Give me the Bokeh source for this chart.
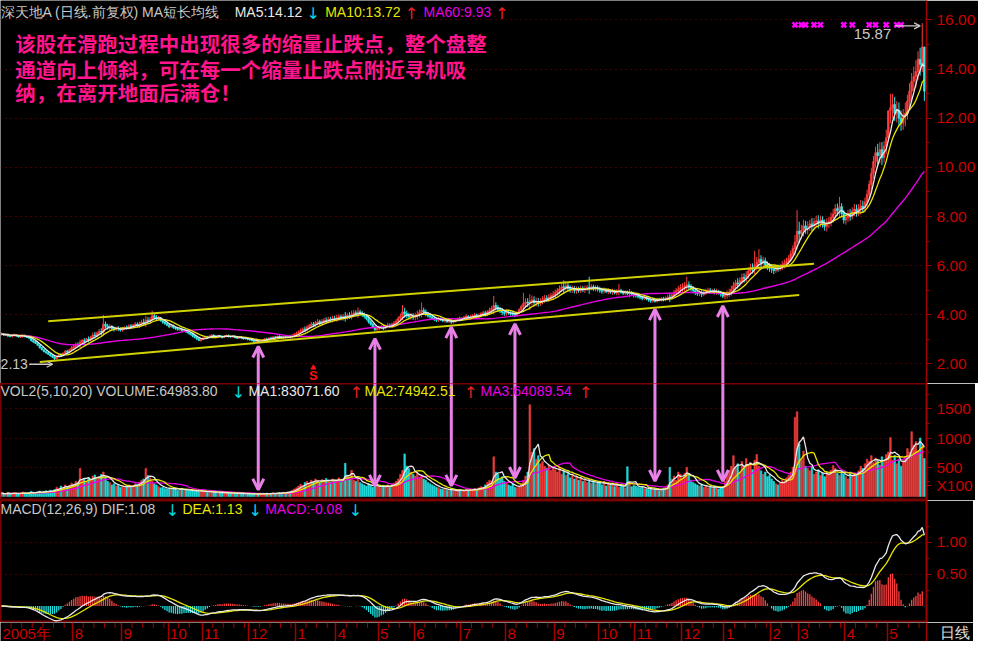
import numpy as np
import pandas as pd
from bokeh.plotting import figure
from bokeh.layouts import column
from bokeh.models import (Range1d, FixedTicker, Label, Arrow, OpenHead, ColumnDataSource,
                          NumeralTickFormatter, Grid)
from bokeh.core.properties import value
from bokeh.embed import file_html
from bokeh.resources import INLINE

# ---------------- data ----------------
month_labels = ["2005年", "8", "9", "10", "11", "12", "1", "4", "5", "6", "7",
                "8", "9", "10", "11", "12", "1", "2", "3", "4", "5"]

close_2005_07 = [3.22, 3.18, 3.20, 3.15, 3.12, 3.16, 3.19, 3.14, 3.10, 3.13,
                 3.16, 3.12, 3.08, 3.05, 2.95, 2.90, 2.84, 2.76, 2.66, 2.58,
                 2.50, 2.46, 2.40, 2.34, 2.28, 2.22, 2.30, 2.38, 2.35, 2.44,
                 2.52, 2.48, 2.58, 2.66]
close_2005_08 = [2.72, 2.80, 2.76, 2.88, 2.95, 2.92, 3.02, 2.98, 3.10, 3.18,
                 3.15, 3.26, 3.32, 3.30, 3.62, 3.55, 3.48, 3.52, 3.44, 3.40,
                 3.46, 3.42, 3.38]
close_2005_09 = [3.42, 3.50, 3.46, 3.55, 3.52, 3.58, 3.62, 3.56, 3.64, 3.70,
                 3.68, 3.78, 3.74, 3.82, 3.96, 3.90, 3.84, 3.88, 3.76, 3.70,
                 3.64, 3.58]
close_2005_10 = [3.52, 3.56, 3.48, 3.44, 3.40, 3.42, 3.36, 3.38, 3.30, 3.26,
                 3.20, 3.14, 3.08, 3.02, 2.96, 3.00]
close_2005_11 = [3.06, 3.12, 3.08, 3.14, 3.18, 3.12, 3.10, 3.15, 3.12, 3.08,
                 3.14, 3.16, 3.12, 3.10, 3.13, 3.08, 3.05, 3.09, 3.06, 3.02,
                 3.04, 3.00]
close_2005_12 = [2.98, 2.95, 2.92, 2.96, 2.90, 2.94, 2.98, 3.02, 3.00, 3.06,
                 3.04, 3.10, 3.08, 3.12, 3.10, 3.06, 3.10, 3.08, 3.12, 3.10,
                 3.15, 3.20]
close_2006_01 = [3.24, 3.30, 3.36, 3.42, 3.40, 3.50, 3.56, 3.62, 3.58, 3.68,
                 3.72, 3.66, 3.74, 3.78, 3.76, 3.82, 3.80, 3.86, 3.84]
close_2006_04 = [3.88, 3.92, 3.86, 3.94, 3.90, 3.98, 3.96, 4.02, 4.08, 4.04,
                 4.12, 4.06, 4.00, 3.94, 3.84, 3.72, 3.62, 3.50, 3.40, 3.44]
close_2006_05 = [3.48, 3.52, 3.46, 3.55, 3.58, 3.54, 3.62, 3.66, 3.74, 3.86,
                 3.94, 4.12, 4.05, 3.98, 3.92, 3.96, 3.90]
close_2006_06 = [3.96, 4.02, 4.10, 4.18, 4.12, 4.04, 3.96, 3.92, 3.86, 3.82,
                 3.78, 3.84, 3.80, 3.76, 3.78, 3.72, 3.75, 3.70, 3.74, 3.80,
                 3.84, 3.82]
close_2006_07 = [3.86, 3.90, 3.94, 3.88, 3.92, 3.96, 4.00, 3.94, 3.98, 4.04,
                 4.08, 4.02, 4.12, 4.18, 4.26, 4.38, 4.30, 4.22, 4.16, 4.10,
                 4.06]
close_2006_08 = [4.12, 4.08, 4.04, 4.02, 3.98, 4.10, 4.22, 4.34, 4.46, 4.52,
                 4.48, 4.56, 4.60, 4.50, 4.54, 4.48, 4.56, 4.62, 4.68, 4.64,
                 4.72, 4.78, 4.82]
close_2006_09 = [4.90, 4.98, 5.06, 5.14, 5.10, 5.18, 5.08, 5.02, 5.06, 4.98,
                 5.04, 5.00, 5.08, 5.02, 5.06, 5.12, 5.10, 5.14, 5.06, 5.10,
                 5.04]
close_2006_10 = [5.00, 4.96, 5.02, 4.94, 4.98, 4.92, 4.96, 4.90, 4.94, 5.00,
                 4.92, 4.88, 4.92, 4.86, 4.90, 4.84, 4.80]
close_2006_11 = [4.78, 4.74, 4.70, 4.66, 4.72, 4.64, 4.60, 4.56, 4.62, 4.55,
                 4.64, 4.60, 4.66, 4.62, 4.68, 4.72, 4.70, 4.80, 4.92, 4.98,
                 5.04, 5.10]
close_2006_12 = [5.12, 5.18, 5.22, 5.14, 5.06, 4.98, 4.92, 4.86, 4.90, 4.84,
                 4.92, 4.96, 5.00, 4.94, 4.98, 4.92, 4.96, 4.88, 4.84, 4.76]
close_2007_01 = [4.80, 4.86, 4.92, 5.04, 5.18, 5.30, 5.26, 5.40, 5.52, 5.48,
                 5.62, 5.78, 5.92, 5.86, 6.02, 6.14, 6.26, 6.10, 6.20, 6.04,
                 5.96, 5.90]
close_2007_02 = [5.86, 5.80, 5.92, 5.88, 5.98, 6.04, 6.10, 6.18, 6.30, 6.48,
                 6.70, 6.96, 7.40]
close_2007_03 = [7.30, 7.44, 7.62, 7.50, 7.58, 7.70, 7.64, 7.78, 7.82, 7.74,
                 7.86, 7.70, 7.60, 7.72, 7.80, 7.96, 8.10, 8.32, 8.24, 8.40,
                 8.12, 7.86]
close_2007_04 = [7.96, 8.10, 8.04, 8.22, 8.30, 8.18, 8.34, 8.42, 8.36, 8.58,
                 8.90, 9.30, 9.76, 10.24, 10.60, 10.48, 10.72, 10.40, 10.86, 11.20]
close_2007_05 = [12.30, 12.42, 12.56, 12.20, 12.32, 12.00, 11.80, 12.10, 12.20, 12.70,
                 13.10, 13.50, 13.70, 13.90, 14.40, 14.20, 14.90, 13.10]

# daily amplitude (high-low) in percent of the close
amp_2005_07 = [4, 3, 3, 5, 3, 4, 4, 3, 3, 4, 5, 4, 3, 4, 6, 5, 4, 5, 6, 5, 5, 6, 5, 6,
               6, 8, 7, 6, 7, 6, 7, 6, 7, 8]
amp_2005_08 = [6, 8, 7, 12, 7, 8, 6, 8, 7, 9, 9, 7, 8, 9, 16, 8, 7, 7, 6, 6, 5, 6, 5]
amp_2005_09 = [5, 4, 5, 6, 5, 5, 6, 6, 7, 7, 8, 12, 8, 7, 7, 6, 6, 5, 5, 5, 4, 4]
amp_2005_10 = [5, 4, 5, 4, 4, 4, 5, 4, 4, 4, 4, 5, 4, 5, 4, 5]
amp_2005_11 = [4, 4, 3, 4, 3, 3, 4, 3, 3, 4, 3, 3, 4, 3, 3, 4, 3, 3, 4, 3, 3, 4]
amp_2005_12 = [3, 3, 4, 3, 4, 4, 3, 4, 4, 3, 4, 4, 3, 4, 4, 4, 5, 4, 5, 5, 6, 6]
amp_2006_01 = [6, 6, 7, 6, 7, 7, 6, 7, 6, 7, 7, 6, 7, 6, 7, 7, 6, 7, 6]
amp_2006_04 = [7, 7, 6, 7, 10, 7, 7, 9, 7, 6, 10, 6, 6, 6, 6, 7, 6, 6, 7, 6]
amp_2006_05 = [6, 5, 6, 5, 6, 5, 6, 6, 7, 7, 8, 12, 10, 8, 7, 7, 7]
amp_2006_06 = [8, 9, 8, 12, 7, 7, 6, 6, 5, 5, 5, 5, 4, 4, 5, 4, 4, 5, 4, 4, 4, 5]
amp_2006_07 = [4, 4, 5, 4, 5, 4, 5, 4, 5, 5, 5, 6, 6, 7, 7, 14, 8, 7, 6, 7, 6]
amp_2006_08 = [6, 5, 5, 6, 5, 5, 5, 6, 12, 8, 8, 14, 9, 9, 8, 8, 7, 7, 7, 6, 7, 6, 7]
amp_2006_09 = [7, 6, 7, 6, 10, 6, 7, 6, 6, 6, 6, 5, 6, 5, 6, 5, 10, 5, 5, 5, 5]
amp_2006_10 = [5, 5, 5, 4, 5, 4, 5, 4, 5, 7, 4, 4, 4, 4, 7, 4, 5]
amp_2006_11 = [4, 4, 4, 4, 4, 4, 4, 4, 4, 4, 4, 3, 4, 4, 4, 5, 8, 6, 6, 6, 7, 7]
amp_2006_12 = [7, 7, 9, 7, 6, 6, 6, 5, 5, 6, 5, 5, 5, 5, 4, 5, 5, 4, 5, 5]
amp_2007_01 = [6, 7, 7, 8, 9, 7, 8, 7, 8, 7, 8, 8, 8, 7, 10, 9, 11, 8, 7, 7, 6, 6]
amp_2007_02 = [6, 6, 5, 5, 5, 6, 6, 6, 6, 7, 7, 12, 14]
amp_2007_03 = [12, 8, 9, 7, 7, 6, 7, 6, 6, 7, 6, 6, 6, 7, 6, 7, 7, 7, 6, 9, 7, 7]
amp_2007_04 = [6, 6, 6, 6, 6, 6, 6, 7, 6, 7, 8, 8, 9, 9, 8, 8, 8, 9, 8, 9]
amp_2007_05 = [9, 9, 8, 8, 7, 8, 7, 7, 8, 8, 8, 8, 7, 8, 8, 8, 9, 10]

vol_2005_07 = [60, 45, 50, 70, 40, 55, 65, 50, 45, 60, 80, 55, 50, 70, 90, 75, 60, 80,
               95, 70, 85, 100, 90, 110, 95, 120, 160, 140, 180, 150, 200, 170, 190, 230]
vol_2005_08 = [210, 260, 240, 480, 280, 300, 250, 320, 290, 350, 370, 300, 340, 380,
               420, 330, 260, 240, 200, 220, 180, 190, 160]
vol_2005_09 = [170, 150, 180, 200, 160, 190, 220, 210, 250, 280, 300, 480, 360, 320,
               260, 220, 200, 170, 150, 160, 140, 130]
vol_2005_10 = [140, 120, 150, 130, 110, 125, 140, 100, 115, 105, 95, 110, 90, 100, 85, 95]
vol_2005_11 = [90, 80, 70, 85, 75, 65, 80, 70, 60, 75, 65, 55, 70, 60, 50, 65, 55, 45,
               60, 50, 40, 55]
vol_2005_12 = [45, 40, 50, 35, 45, 55, 40, 50, 60, 45, 55, 65, 50, 60, 70, 60, 75, 65,
               80, 90, 110, 130]
vol_2006_01 = [150, 180, 210, 190, 240, 260, 230, 280, 250, 300, 270, 240, 290, 260,
               310, 280, 250, 300, 270]
vol_2006_04 = [280, 320, 260, 300, 570, 350, 300, 450, 280, 260, 300, 240, 220, 200,
               180, 220, 190, 160, 200, 170]
vol_2006_05 = [180, 150, 190, 170, 200, 160, 210, 230, 260, 300, 380, 450, 730, 520,
               480, 420, 380]
vol_2006_06 = [350, 400, 320, 360, 300, 280, 240, 220, 200, 180, 160, 150, 130, 120,
               140, 110, 100, 120, 110, 90, 100, 120]
vol_2006_07 = [110, 95, 120, 105, 130, 115, 140, 125, 150, 170, 160, 200, 240, 280,
               260, 680, 420, 380, 300, 340, 260]
vol_2006_08 = [240, 200, 180, 220, 160, 150, 170, 210, 280, 350, 420, 1570, 760, 820,
               640, 700, 560, 600, 520, 480, 540, 450, 500]
vol_2006_09 = [460, 420, 500, 380, 440, 360, 400, 320, 380, 300, 340, 280, 320, 260,
               300, 240, 280, 230, 260, 220, 250]
vol_2006_10 = [240, 200, 260, 180, 220, 190, 230, 170, 210, 160, 200, 180, 150, 510,
               220, 170, 190]
vol_2006_11 = [180, 160, 150, 170, 140, 130, 120, 140, 110, 130, 120, 100, 130, 140,
               160, 200, 500, 300, 350, 280, 420, 380]
vol_2006_12 = [320, 400, 500, 360, 280, 240, 220, 200, 180, 210, 160, 190, 150, 170,
               140, 180, 160, 130, 150, 170]
vol_2007_01 = [260, 380, 450, 520, 700, 480, 560, 420, 600, 500, 650, 540, 580, 460,
               620, 720, 520, 440, 380, 420, 340, 360]
vol_2007_02 = [300, 260, 220, 200, 240, 280, 260, 320, 360, 420, 500, 1350, 1450]
vol_2007_03 = [900, 620, 780, 520, 480, 440, 520, 380, 420, 460, 360, 400, 340, 420,
               380, 450, 530, 480, 400, 360, 420, 380]
vol_2007_04 = [340, 300, 420, 360, 400, 380, 440, 520, 480, 560, 640, 600, 700, 580,
               660, 620, 540, 680, 600, 720]
vol_2007_05 = [760, 1010, 620, 700, 560, 640, 520, 600, 680, 820, 760, 1110, 880, 940,
               780, 1000, 900, 650]

# intraday extremes that stick out as long shadows
spike_bars = [48, 71, 168, 189, 198, 232, 246, 265, 277, 291, 323, 355, 357, 375, 395,
              419, 430, 432, 434]
spike_highs = [4.0, 4.17, 4.3, 4.4, 4.5, 4.77, 4.9, 5.4, 5.55, 5.25, 5.55, 6.6, 6.67,
               8.26, 8.8, 13.0, 14.1, 14.7, 15.87]
dip_bars = [25, 424, 435]
dip_lows = [2.13, 11.5, 12.7]

price_ticks = [2, 4, 6, 8, 10, 12, 14, 16]
price_minor = [3, 5, 7, 9, 11, 13, 15]
volume_ticks = [500, 1000, 1500]
volume_minor = [250, 750, 1250, 1750]
volume_unit_at = 190
macd_ticks = [0.5, 1.0]
macd_minor = [0.25, 0.75, 1.25]

# hand-drawn trend channel (bar index, price)
channel_upper_x = [22, 383]
channel_upper_y = [3.74, 6.08]
channel_lower_x = [18, 376]
channel_lower_y = [2.08, 4.81]

# "shrinking volume stop-fall" arrows
arrow_bars = [121, 176, 212, 242, 308, 340]
arrow_price_tips = [2.71, 3.03, 3.50, 3.63, 4.23, 4.36]
arrow_volume_tips = [117, 183, 183, 317, 267, 267]

signal_bars = [374, 377, 379, 383, 386, 397, 401, 409, 412, 417, 422, 424]
sell_bars = [147]

price_title = ["深天地A (日线.前复权) MA短长均线", "MA5:14.12", "↓", "MA10:13.72", "↑", "MA60:9.93", "↑"]
volume_title = ["VOL2(5,10,20) VOLUME:64983.80", "↓", "MA1:83071.60", "↑", "MA2:74942.51", "↑",
                "MA3:64089.54", "↑"]
macd_title = ["MACD(12,26,9) DIF:1.08", "↓", "DEA:1.13", "↓", "MACD:-0.08", "↓"]
note_lines = ["该股在滑跑过程中出现很多的缩量止跌点，整个盘整",
              "通道向上倾斜，可在每一个缩量止跌点附近寻机吸",
              "纳，在离开地面后满仓！"]
x100_label = "X100"
period_label = "日线"

# ---------------- derived series ----------------
close_months = [close_2005_07, close_2005_08, close_2005_09, close_2005_10, close_2005_11,
                close_2005_12, close_2006_01, close_2006_04, close_2006_05, close_2006_06,
                close_2006_07, close_2006_08, close_2006_09, close_2006_10, close_2006_11,
                close_2006_12, close_2007_01, close_2007_02, close_2007_03, close_2007_04,
                close_2007_05]
amp_months = [amp_2005_07, amp_2005_08, amp_2005_09, amp_2005_10, amp_2005_11, amp_2005_12,
              amp_2006_01, amp_2006_04, amp_2006_05, amp_2006_06, amp_2006_07, amp_2006_08,
              amp_2006_09, amp_2006_10, amp_2006_11, amp_2006_12, amp_2007_01, amp_2007_02,
              amp_2007_03, amp_2007_04, amp_2007_05]
vol_months = [vol_2005_07, vol_2005_08, vol_2005_09, vol_2005_10, vol_2005_11, vol_2005_12,
              vol_2006_01, vol_2006_04, vol_2006_05, vol_2006_06, vol_2006_07, vol_2006_08,
              vol_2006_09, vol_2006_10, vol_2006_11, vol_2006_12, vol_2007_01, vol_2007_02,
              vol_2007_03, vol_2007_04, vol_2007_05]

close = np.array(sum(close_months, []), dtype=float)
N = len(close)
volume = np.array(sum(vol_months, []), dtype=float)[:N]
amp = np.array(sum(amp_months, []), dtype=float)
amp = np.pad(amp, (0, max(0, N - len(amp))), mode="edge")[:N]
idx = np.arange(N)
month_starts = np.cumsum([0] + [len(m) for m in close_months[:-1]])
month_bounds = [float(s) - 0.5 for s in month_starts]

open_ = np.concatenate([[close[0]], close[:-1]])
body = np.abs(close - open_)
shadow = np.maximum(amp / 100.0 * close - body, 0) / 2
high = np.maximum(open_, close) + shadow
low = np.minimum(open_, close) - shadow
for b, h in zip(spike_bars, spike_highs):
    if b < N:
        high[b] = max(high[b], h)
for b, l in zip(dip_bars, dip_lows):
    if b < N:
        low[b] = min(low[b], l)

cs = pd.Series(close)
ma5 = cs.rolling(5, min_periods=1).mean()
ma10 = cs.rolling(10, min_periods=1).mean()
ma60 = cs.rolling(60, min_periods=1).mean()
vs = pd.Series(volume)
vma5 = vs.rolling(5, min_periods=1).mean()
vma10 = vs.rolling(10, min_periods=1).mean()
vma20 = vs.rolling(20, min_periods=1).mean()
ema12 = cs.ewm(span=12, adjust=False).mean()
ema26 = cs.ewm(span=26, adjust=False).mean()
dif = ema12 - ema26
dea = dif.ewm(span=9, adjust=False).mean()
hist = 2 * (dif - dea)

up = close >= open_
df = pd.DataFrame(dict(i=idx, o=open_, c=close, h=high, l=low, v=volume))
inc = ColumnDataSource(df[up])
dec = ColumnDataSource(df[~up])

# ---------------- styling ----------------
BG = "#000000"
RED_C = "#ff3c3c"
CYAN_C = "#2ee8e8"
WHITE = "#e8e8e8"
GRAY = "#c8c8c8"
YELLOW = "#e6e600"
MAGENTA = "#e600e6"
AXIS_RED = "#a00000"
LABEL_RED = "#cc0000"
GRID_RED = "#8a0000"
PINK = "#ff148c"
VIOLET = "#e880e8"
CHANNEL = "#d2d200"
ARROW_RED = "#e82020"
ARROW_CYAN = "#00d8e0"

SX = 973 / 989
SY = 641 / 657
FW = 926
PH, VH, MH, DH = 383, 117, 122, 19
RB = 47

xr = Range1d(-0.5, N)

common = dict(x_range=xr, frame_width=FW, min_border_left=0, min_border_right=RB,
              min_border_top=0, min_border_bottom=0, toolbar_location=None,
              output_backend="svg", background_fill_color=BG, border_fill_color=BG,
              x_axis_location=None, y_axis_location="right")


def style_axis(fig, ticks, minor, fmt=None, size="15.5px", extra=None):
    ax = fig.yaxis[0]
    allt = sorted(ticks + ([extra[0]] if extra else []))
    ax.ticker = FixedTicker(ticks=allt, minor_ticks=minor)
    if fmt:
        ax.formatter = NumeralTickFormatter(format=fmt)
    if extra:
        ax.major_label_overrides = {extra[0]: extra[1]}
    ax.axis_line_color = AXIS_RED
    ax.axis_line_width = 1.5
    ax.major_tick_line_color = AXIS_RED
    ax.minor_tick_line_color = AXIS_RED
    ax.major_tick_out = 5
    ax.major_tick_in = 0
    ax.minor_tick_out = 3
    ax.minor_tick_in = 0
    ax.major_label_text_color = LABEL_RED
    ax.major_label_text_font = "Liberation Sans"
    ax.major_label_text_font_size = size
    ax.major_label_standoff = 5
    g = fig.ygrid[0]
    g.ticker = FixedTicker(ticks=ticks)
    g.grid_line_color = GRID_RED
    g.grid_line_dash = "1 4"
    g.grid_line_width = 1
    fig.xgrid.visible = False


def put(fig, fh, top, xref, yref, text, color, size="14px", font="Liberation Sans",
        style="normal", align="left"):
    fig.add_layout(Label(x=xref * SX, y=fh - (yref - top) * SY, x_units="screen",
                         y_units="screen", text=text, text_color=color,
                         text_font_size=size, text_font=font, text_font_style=style,
                         text_align=align, text_baseline="middle"))


def put_title(fig, fh, top, yref, items, xs, colors):
    for t, x, c in zip(items, xs, colors):
        if t in ("↑", "↓"):
            put(fig, fh, top, x, yref + 1, t, c, size="16px", font="DejaVu Sans")
        else:
            put(fig, fh, top, x, yref, t, c)


# ---------------- price panel ----------------
pp = figure(y_range=Range1d(1.206, 16.79), frame_height=PH, outline_line_color=None, **common)
style_axis(pp, price_ticks, price_minor, fmt="0.00")

pp.segment("i", "h", "i", "l", source=inc, line_color=RED_C, line_width=1)
pp.vbar("i", 0.75, "o", "c", source=inc, fill_color=RED_C, line_color=RED_C, line_width=0.8)
pp.segment("i", "h", "i", "l", source=dec, line_color=CYAN_C, line_width=1)
pp.vbar("i", 0.75, "o", "c", source=dec, fill_color=CYAN_C, line_color=CYAN_C, line_width=0.8)

pp.line(idx, ma60, line_color=MAGENTA, line_width=1.4)
pp.line(idx, ma10, line_color=YELLOW, line_width=1.3)
pp.line(idx, ma5, line_color=WHITE, line_width=1.3)

pp.line(channel_upper_x, channel_upper_y, line_color=CHANNEL, line_width=2)
pp.line(channel_lower_x, channel_lower_y, line_color=CHANNEL, line_width=2)

arr_p = ColumnDataSource(dict(x=arrow_bars, y0=[0.5] * len(arrow_bars), y1=arrow_price_tips))
pp.add_layout(Arrow(end=OpenHead(size=11, line_color=VIOLET, line_width=3),
                    x_start="x", y_start="y0", x_end="x", y_end="y1", source=arr_p,
                    line_color=VIOLET, line_width=3))

pp.scatter(signal_bars, [15.8] * len(signal_bars), marker="x", size=7,
           line_color="#ff00ff", line_width=2.5)
pp.text(sell_bars, [1.52] * len(sell_bars), text=["S"] * len(sell_bars),
        text_font=value("Liberation Sans"), text_font_style="bold",
        text_font_size=value("13px"), text_color="#ff1010", text_align="center",
        text_baseline="middle")
pp.scatter(sell_bars, [1.85] * len(sell_bars), marker="triangle", size=5,
           fill_color="#ff1010", line_color="#ff1010")

hi_i = int(np.argmax(high))
hi_v = float(high[hi_i])
lo_i = int(np.argmin(low))
lo_v = float(low[lo_i])
pp.add_layout(Arrow(end=OpenHead(size=6, line_color=GRAY, line_width=1.3),
                    x_start=hi_i - 12.8, y_start=hi_v - 0.11, x_end=hi_i - 1.0,
                    y_end=hi_v - 0.11, line_color=GRAY, line_width=1.3))
pp.text([hi_i - 14.6], [hi_v - 0.43], text=[f"{hi_v:.2f}"], text_font=value("Liberation Sans"),
        text_font_size=value("15px"), text_color=GRAY, text_align="right",
        text_baseline="middle")
pp.add_layout(Arrow(end=OpenHead(size=6, line_color=GRAY, line_width=1.3),
                    x_start=lo_i - 12.0, y_start=lo_v - 0.14, x_end=lo_i - 0.9,
                    y_end=lo_v - 0.14, line_color=GRAY, line_width=1.3))
pp.text([lo_i - 12.6], [lo_v - 0.14], text=[f"{lo_v:.2f}"], text_font=value("Liberation Sans"),
        text_font_size=value("14px"), text_color=GRAY, text_align="right",
        text_baseline="middle")

put_title(pp, PH, 0, 12, price_title, [0, 238, 311, 330, 411, 430, 503],
          [GRAY, WHITE, ARROW_CYAN, YELLOW, ARROW_RED, MAGENTA, ARROW_RED])
for line, yref in zip(note_lines, [44, 70, 94]):
    put(pp, PH, 0, 15, yref, line, PINK, size="20.5px", font="Noto Sans CJK SC", style="bold")

# ---------------- volume panel ----------------
pv = figure(y_range=Range1d(-67, 1933), frame_height=VH, outline_line_color="#7a0000",
            outline_line_width=2, **common)
style_axis(pv, volume_ticks, volume_minor, extra=(volume_unit_at, x100_label))
pv.vbar("i", 0.75, "v", 0, source=inc, fill_color="#f03a3a", line_color="#f03a3a", line_width=0.6)
pv.vbar("i", 0.75, "v", 0, source=dec, fill_color="#22d8d8", line_color="#22d8d8", line_width=0.6)
pv.line(idx, vma20, line_color=MAGENTA, line_width=1.3)
pv.line(idx, vma10, line_color=YELLOW, line_width=1.3)
pv.line(idx, vma5, line_color=WHITE, line_width=1.3)

arr_v = ColumnDataSource(dict(x=arrow_bars, y0=[2600] * len(arrow_bars), y1=arrow_volume_tips))
pv.add_layout(Arrow(end=OpenHead(size=11, line_color=VIOLET, line_width=3),
                    x_start="x", y_start="y0", x_end="x", y_end="y1", source=arr_v,
                    line_color=VIOLET, line_width=3))

put_title(pv, VH, 393, 401, volume_title, [0, 235, 252, 355, 370, 471, 488, 588],
          [GRAY, ARROW_CYAN, WHITE, ARROW_RED, YELLOW, ARROW_RED, MAGENTA, ARROW_RED])

# ---------------- MACD panel ----------------
pm = figure(y_range=Range1d(-0.26, 1.66), frame_height=MH, outline_line_color="#7a0000",
            outline_line_width=2, **common)
style_axis(pm, macd_ticks, macd_minor, fmt="0.00")
hpos = hist.values >= 0
hv = hist.values
pm.segment(idx[hpos], 0, idx[hpos], hv[hpos], line_color="#ff4040", line_width=1.3)
pm.segment(idx[~hpos], 0, idx[~hpos], hv[~hpos], line_color="#20e0e0", line_width=1.3)
pm.line(idx, dea, line_color=YELLOW, line_width=1.3)
pm.line(idx, dif, line_color=WHITE, line_width=1.3)
put_title(pm, MH, 513, 522, macd_title, [0, 168, 185, 252, 269, 354],
          [GRAY, ARROW_CYAN, YELLOW, ARROW_CYAN, MAGENTA, ARROW_CYAN])

# ---------------- date strip ----------------
pdt = figure(y_range=Range1d(0, 1), frame_height=DH, outline_line_color=None, **common)
pdt.xgrid.visible = False
pdt.ygrid.visible = False
pdt.add_layout(Grid(dimension=0, ticker=FixedTicker(ticks=month_bounds),
                    grid_line_color=AXIS_RED, grid_line_width=1.5))
week_x = []
ends = list(month_starts[1:]) + [N]
for s, e in zip(month_starts, ends):
    k = s + 5
    while k < e - 1:
        week_x.append(k - 0.5)
        k += 5
pdt.segment(week_x, [0.72] * len(week_x), week_x, [1.0] * len(week_x),
            line_color=AXIS_RED, line_width=1)
pdt.text(month_bounds, [0.42] * len(month_bounds), text=month_labels,
         text_font=value("Liberation Sans"), text_font_size=value("15px"),
         text_color=LABEL_RED, text_align="left", text_baseline="middle", x_offset=2)
ax = pdt.yaxis[0]
ax.ticker = FixedTicker(ticks=[0.5])
ax.major_label_overrides = {0.5: period_label}
ax.major_tick_out = 0
ax.major_tick_in = 0
ax.minor_tick_out = 0
ax.minor_tick_in = 0
ax.axis_line_color = AXIS_RED
ax.axis_line_width = 1.5
ax.major_label_text_color = "#e0e0e0"
ax.major_label_text_font_size = "15px"
ax.major_label_standoff = 13

layout = column(pp, pv, pm, pdt, spacing=0)
open("out.html", "w").write(file_html(layout, INLINE))
